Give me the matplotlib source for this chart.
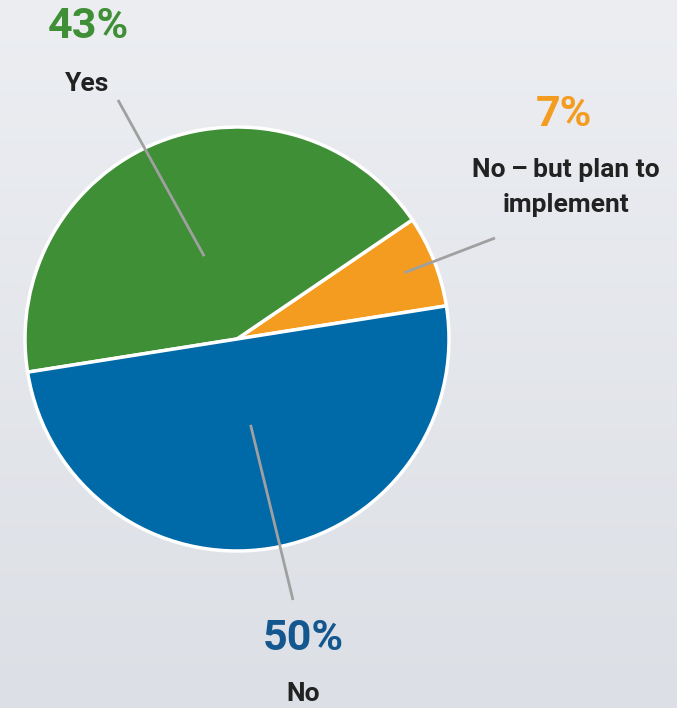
import matplotlib.pyplot as plt
import numpy as np

plt.rcParams['font.family'] = ['Roboto', 'DejaVu Sans']

# Survey answers, counter-clockwise from the right side of the pie
answers = ["No\u2009–\u2009but plan to\nimplement", "Yes", "No"]
shares = [7, 43, 50]
colors = ["#f49c1f", "#3f8f36", "#0069a8"]
pct_colors = ["#f49c1f", "#3f8f36", "#14578f"]

W, H = 677, 708
center = (237, H - 339)
radius = 212

fig = plt.figure(figsize=(W / 100, H / 100), dpi=100)
ax = fig.add_axes([0, 0, 1, 1])

# soft grey backdrop, a touch darker towards the bottom
grad = np.linspace(0, 1, 256).reshape(-1, 1)
bg = np.array([0.925, 0.933, 0.949]) * (1 - grad[..., None]) + np.array([0.863, 0.875, 0.898]) * grad[..., None]
ax.imshow(bg, extent=[0, W, 0, H], origin="upper", aspect="auto", zorder=0)

wedges, _ = ax.pie(shares, colors=colors, startangle=9, counterclock=True,
                   center=center, radius=radius, frame=True,
                   wedgeprops=dict(edgecolor="white", linewidth=2.5))
ax.set_xlim(0, W)
ax.set_ylim(0, H)
ax.axis("off")

# leader line start (fraction of radius) and text anchor for each answer
inner_frac = [0.85, 0.42, 0.41]
line_end = [(495, H - 238), (118, H - 100), (293, H - 600)]
pct_pos = [(564, H - 115), (88, H - 27), (303, H - 638)]
label_pos = [(566, H - 158), (87, H - 84), (303, H - 694)]

for w, f, end, pp, lp, name, val, pc in zip(wedges, inner_frac, line_end, pct_pos,
                                           label_pos, answers, shares, pct_colors):
    mid = np.deg2rad((w.theta1 + w.theta2) / 2)
    x0 = center[0] + f * radius * np.cos(mid)
    y0 = center[1] + f * radius * np.sin(mid)
    ax.plot([x0, end[0]], [y0, end[1]], color="#a0a0a0", lw=2, zorder=5,
            solid_capstyle="butt")
    ax.text(pp[0], pp[1], f"{val}%", color=pc, fontsize=31, fontweight="bold",
            ha="center", va="center")
    ax.text(lp[0], lp[1], name, color="#222222", fontsize=19, fontweight="bold",
            ha="center", va="top" if "\n" in name else "center", linespacing=1.6)

fig.savefig("out.png", dpi=100)
